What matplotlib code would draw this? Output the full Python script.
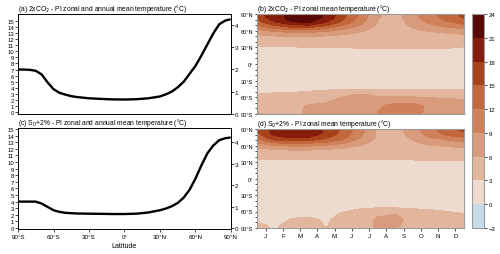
import numpy as np
import matplotlib
matplotlib.use("Agg")
import matplotlib.pyplot as plt

plt.rcParams['font.family'] = ['Liberation Sans', 'DejaVu Sans']
plt.rcParams['axes.linewidth'] = 0.6

# ---- zonal annual mean curves (left-axis units) ----
lat_line = [-90, -85, -80, -75, -70, -65, -60, -55, -50, -45, -40, -30, -20, -10, 0,
            10, 20, 30, 35, 40, 45, 50, 55, 60, 65, 70, 75, 80, 85, 89]
co2_line = [7.0, 7.0, 6.95, 6.8, 6.2, 4.9, 3.8, 3.2, 2.9, 2.65, 2.5, 2.3, 2.2, 2.12, 2.1,
            2.15, 2.3, 2.6, 2.95, 3.4, 4.1, 5.0, 6.3, 7.6, 9.3, 11.1, 12.9, 14.4, 15.0, 15.2]
s0_line = [4.0, 4.0, 4.0, 4.0, 3.7, 3.2, 2.7, 2.45, 2.3, 2.25, 2.2, 2.17, 2.15, 2.12, 2.12,
           2.17, 2.35, 2.7, 2.95, 3.3, 3.8, 4.6, 5.8, 7.5, 9.5, 11.3, 12.5, 13.3, 13.6, 13.7]

# ---- month x latitude fields ----
months_x = [0.5, 1.5, 2.5, 3.5, 4.5, 5.5, 6.5, 7.5, 8.5, 9.5, 10.5, 11.5, 12.5]
lat_grid = [90, 85, 80, 75, 70, 65, 60, 55, 50, 40, 30, 15, 0, -15, -30, -45, -55, -65, -75, -85, -90]
month_labels = ['J', 'F', 'M', 'A', 'M', 'J', 'J', 'A', 'S', 'O', 'N', 'D']

co2_field = [
    [17, 19.5, 22, 23, 20.5, 16, 11.5, 6.5, 4.5, 8, 11, 13.5, 16],
    [16.5, 19.5, 22, 23, 20.5, 15.5, 11, 6.3, 4.5, 8, 10.8, 13, 15.5],
    [15, 19, 21.8, 22.5, 19.5, 15, 10.5, 6, 4.5, 7.5, 10.2, 12.5, 14.5],
    [13.5, 17.5, 20.5, 21.2, 18, 14, 10, 5.8, 4.5, 7, 9.5, 11.5, 13],
    [12, 15, 17.5, 18, 15.5, 12, 9, 5.5, 4.5, 6.5, 8.5, 10, 11.5],
    [10, 12.5, 14.5, 14.5, 12.5, 10, 7.5, 5.2, 4.5, 6, 7.5, 8.5, 9.5],
    [8, 9.5, 11, 11, 9.5, 8, 6.5, 4.8, 4.2, 5.4, 6.3, 7, 7.8],
    [6.5, 7.5, 8, 8, 7.3, 6.5, 5.5, 4.4, 4, 4.7, 5.3, 5.8, 6.3],
    [5.4, 5.8, 6.2, 6.2, 5.8, 5.4, 4.8, 4.1, 3.8, 4.2, 4.5, 4.8, 5.2],
    [4.1, 4.1, 4.2, 4.2, 4.1, 4, 3.8, 3.6, 3.5, 3.6, 3.8, 4, 4.1],
    [2.9, 2.9, 2.9, 2.95, 3, 3, 3.1, 3.1, 3.1, 3.1, 3.15, 3.1, 2.9],
    [2.3, 2.3, 2.3, 2.3, 2.3, 2.3, 2.3, 2.3, 2.3, 2.3, 2.3, 2.3, 2.3],
    [2.0, 2.0, 2.0, 2.0, 2.0, 2.0, 2.0, 2.0, 2.0, 2.0, 2.0, 2.0, 2.0],
    [2.0, 2.0, 2.0, 2.0, 2.0, 2.0, 2.0, 2.0, 2.0, 2.0, 2.0, 2.0, 2.0],
    [2.2, 2.2, 2.2, 2.2, 2.2, 2.2, 2.2, 2.2, 2.2, 2.2, 2.2, 2.2, 2.2],
    [2.5, 2.5, 2.5, 2.6, 2.7, 2.8, 2.9, 2.9, 2.9, 2.9, 2.9, 2.9, 2.8],
    [3.1, 3.2, 3.3, 3.6, 4.2, 5.5, 6.2, 5.5, 5, 5, 5, 4.8, 4.5],
    [4, 4.1, 4.3, 4.8, 5.5, 6.8, 7.2, 7, 7.5, 7.5, 6.8, 6.5, 6.2],
    [4.5, 4.6, 5, 6.3, 6.5, 7, 7.5, 8.5, 10, 10, 8.5, 7, 6.5],
    [5, 4.8, 5.2, 6.5, 7, 7.5, 7.8, 9, 10.5, 10, 8.5, 7.2, 6.5],
    [6.5, 5, 5.2, 6.5, 7, 7.5, 7.8, 9, 10, 9.5, 8.2, 7, 6.5],
]

s0_field = [
    [15.5, 19, 20.3, 20, 17.5, 14.5, 10, 5.5, 4.5, 7.5, 11, 14, 16],
    [15, 19, 20.3, 20, 17.5, 14, 10, 5.5, 4.5, 7.5, 10.5, 13.5, 15],
    [14, 18.5, 20, 19.6, 17, 13.5, 9.5, 5.5, 4.5, 7, 10, 12.5, 14],
    [13, 17, 18.5, 18, 15.5, 13, 9, 5.5, 4.5, 6.5, 9, 11, 12],
    [11, 15, 16, 15.5, 14, 11.5, 8, 5, 4.3, 6, 8, 9, 10.5],
    [9, 12, 13, 12.5, 11.5, 9.5, 7, 4.8, 4.2, 5.5, 6.8, 7.8, 8.5],
    [7, 9, 9.5, 9.5, 8.5, 7.5, 6, 4.5, 4, 5, 5.8, 6.3, 7],
    [5.8, 6.5, 7, 7, 6.5, 6, 5.2, 4.2, 3.9, 4.5, 5, 5.4, 5.8],
    [5, 5.3, 5.5, 5.5, 5.3, 5, 4.6, 4, 3.7, 4.1, 4.4, 4.7, 5],
    [3.6, 3.6, 3.6, 3.6, 3.6, 3.6, 3.6, 3.5, 3.4, 3.5, 3.6, 3.7, 3.7],
    [2.6, 2.6, 2.6, 2.6, 2.6, 2.6, 2.6, 2.6, 2.6, 2.7, 2.7, 2.7, 2.7],
    [2.0, 2.0, 2.0, 2.0, 2.0, 2.0, 2.0, 2.0, 2.0, 2.0, 2.0, 2.0, 2.0],
    [1.8, 1.8, 1.8, 1.8, 1.8, 1.8, 1.8, 1.8, 1.8, 1.8, 1.8, 1.8, 1.8],
    [1.8, 1.8, 1.8, 1.8, 1.8, 1.8, 1.8, 1.8, 1.8, 1.8, 1.8, 1.8, 1.8],
    [1.8, 1.8, 1.8, 1.8, 1.8, 1.8, 1.8, 1.8, 1.8, 1.8, 1.8, 1.8, 1.8],
    [2.0, 2.0, 2.0, 2.0, 2.1, 2.2, 2.4, 2.5, 2.5, 2.4, 2.3, 2.2, 2.0],
    [2.2, 2.2, 2.3, 2.3, 2.4, 2.7, 3.0, 3.1, 3.1, 3.0, 2.9, 2.7, 2.5],
    [2.5, 2.4, 2.7, 2.7, 2.6, 3.2, 4.0, 5.5, 6, 4.5, 3.6, 3.3, 3.1],
    [2.7, 2.5, 3.1, 3.3, 2.8, 3.5, 4.3, 6.5, 7, 5, 4, 3.5, 3.2],
    [3.4, 2.7, 3.6, 3.8, 2.9, 3.7, 4.5, 6.5, 6.5, 5, 4.2, 3.8, 3.5],
    [3.6, 2.8, 3.7, 3.9, 3.0, 3.7, 4.5, 6.2, 6, 4.8, 4.2, 3.8, 3.6],
]

levels = [-3, 0, 3, 6, 9, 12, 15, 18, 21, 24]
level_colors = ['#c6dce7', '#eedbcf', '#e2b69c', '#d89b7b', '#cf8159',
                '#c3683c', '#a8411a', '#841d0b', '#580906']

fs = 4.5
fs_title = 4.9
frame_gray = '#9a9a9a'

fig = plt.figure(figsize=(5, 2.55), dpi=100)

ax_a = fig.add_axes([0.036, 0.549, 0.426, 0.392])
ax_c = fig.add_axes([0.036, 0.098, 0.426, 0.396])
ax_b = fig.add_axes([0.514, 0.549, 0.414, 0.392])
ax_d = fig.add_axes([0.514, 0.102, 0.414, 0.388])
cax = fig.add_axes([0.944, 0.102, 0.024, 0.839])


def line_panel(ax, vals, title, ylim_l, ylim_r, bottom):
    ax.plot(lat_line, vals, color='black', lw=1.7, solid_capstyle='round')
    ax.set_xlim(-90, 90)
    ax.set_ylim(*ylim_l)
    ax.set_yticks(range(0, 16))
    ax.tick_params(axis='y', labelsize=fs - 0.2, length=2, width=0.5, pad=1)
    if bottom:
        ax.set_xticks([-90, -60, -30, 0, 30, 60, 90])
        ax.set_xticklabels(['90°S', '60°S', '30°S', '0°', '30°N', '60°N', '90°N'])
        ax.tick_params(axis='x', labelsize=fs, length=2, width=0.5, pad=1.5)
        ax.set_xlabel('Latitude', fontsize=fs + 0.6, labelpad=2)
    else:
        ax.set_xticks([])
    axr = ax.twinx()
    axr.set_ylim(*ylim_r)
    axr.set_yticks(range(0, 5))
    axr.tick_params(axis='y', labelsize=fs, length=2, width=0.5, pad=0.8)
    ax.set_title(title, fontsize=fs_title, loc='left', pad=2.5)


line_panel(ax_a, co2_line, '(a) 2xCO$_2$ - PI zonal and annual mean temperature (°C)',
           (-0.27, 16.08), (0, 4.49), False)
line_panel(ax_c, s0_line, '(c) S$_0$+2% - PI zonal and annual mean temperature (°C)',
           (-0.15, 15.15), (-0.05, 4.67), True)


def map_panel(ax, field, title, bottom):
    cf = ax.contourf(months_x, lat_grid, np.array(field), levels=levels, colors=level_colors)
    ax.set_xlim(0.5, 12.5)
    ax.set_ylim(-90, 90)
    ax.set_yticks([-90, -60, -30, 0, 30, 60, 90])
    ax.set_yticklabels(['90°S', '60°S', '30°S', '0°', '30°N', '60°N', '90°N'])
    ax.set_yticks(range(-90, 91, 10), minor=True)
    ax.tick_params(axis='y', which='both', labelsize=fs - 0.4, length=1.8, width=0.5, pad=1)
    ax.tick_params(axis='y', which='minor', length=1.1)
    if bottom:
        ax.set_xticks(range(1, 13))
        ax.set_xticklabels(month_labels)
        ax.tick_params(axis='x', labelsize=fs, length=2, width=0.5, pad=1.5)
    else:
        ax.set_xticks([])
    for s in ax.spines.values():
        s.set_color(frame_gray)
        s.set_linewidth(0.8)
    ax.set_title(title, fontsize=fs_title, loc='left', pad=2.5)
    return cf


cf = map_panel(ax_b, co2_field, '(b) 2xCO$_2$ - PI zonal mean temperature (°C)', False)
map_panel(ax_d, s0_field, '(d) S$_0$+2% - PI zonal mean temperature (°C)', True)

cb = fig.colorbar(cf, cax=cax, ticks=levels)
cb.outline.set_edgecolor(frame_gray)
cb.outline.set_linewidth(0.8)
cax.tick_params(labelsize=fs - 0.3, length=2, width=0.5, pad=1.5)

fig.savefig('out.png', dpi=100)
